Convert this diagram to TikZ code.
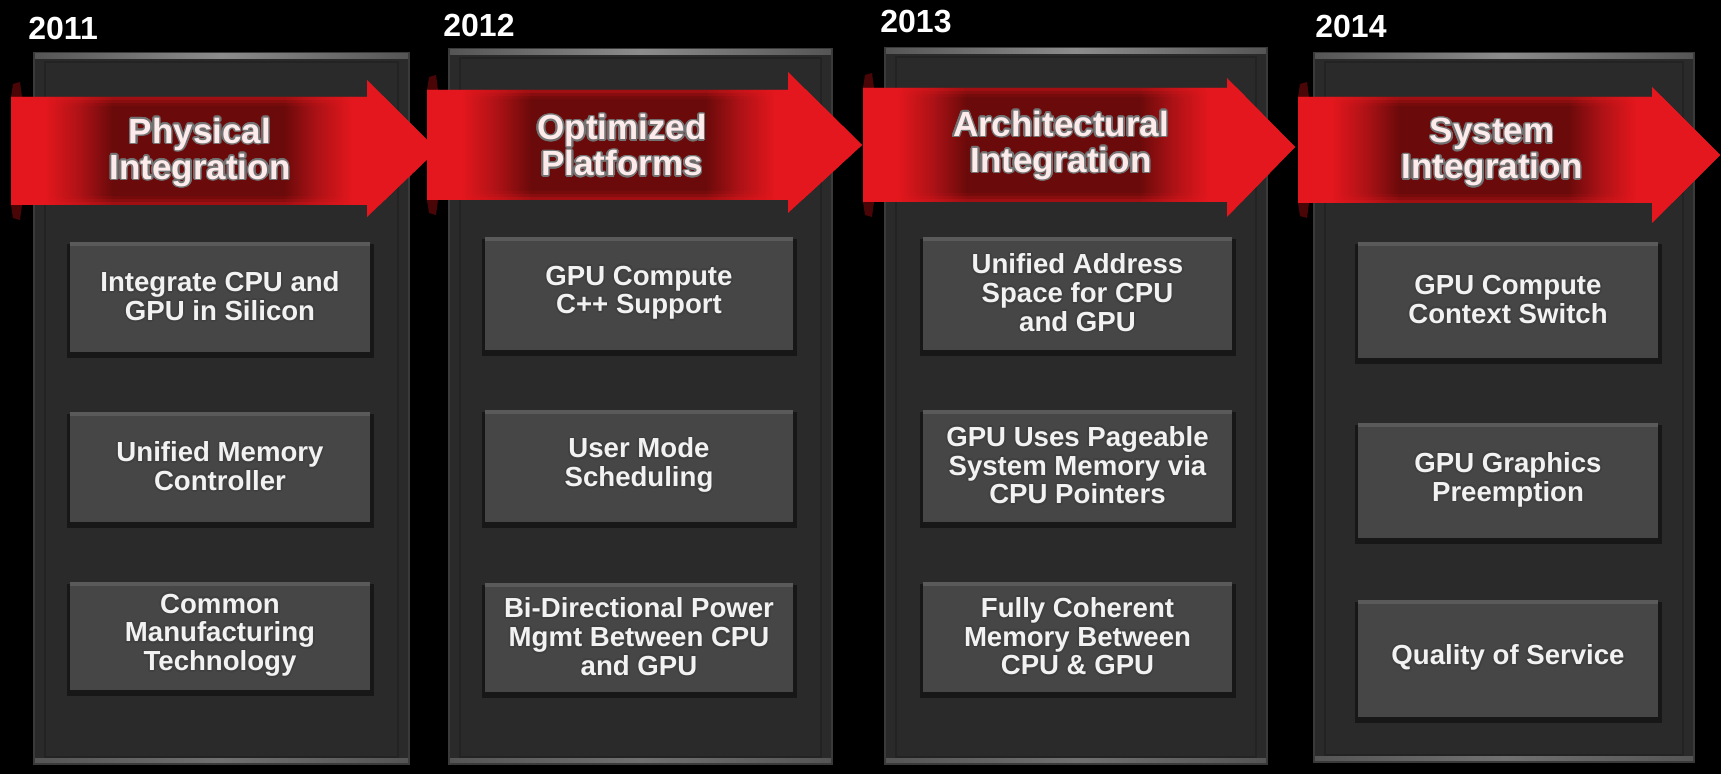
\documentclass[tikz,border=0pt]{standalone}
\usepackage{fontspec}
\setmainfont{Liberation Sans}
\usepackage{contour}
\contourlength{0.8pt}
\contournumber{16}
\definecolor{ribbonred}{HTML}{E3171D}
\definecolor{ribbondark}{HTML}{6A0A0A}
\definecolor{ribbonmid}{HTML}{AE1216}
\definecolor{ribbonfold}{HTML}{4A0606}
\definecolor{panelgray}{HTML}{2A2A2A}
\definecolor{paneledge}{HTML}{3A3A3A}
\definecolor{panelinner}{HTML}{232323}
\definecolor{toplineA}{HTML}{555555}
\definecolor{toplineB}{HTML}{8C8C8C}
\definecolor{boxgray}{HTML}{464646}
\definecolor{boxtop}{HTML}{5A5A5A}
\definecolor{titlepink}{HTML}{FDEBEB}
\definecolor{itemwhite}{HTML}{F2F2F2}
% red ends, dark middle behind the title; 25bp..75bp spans the band
\pgfdeclarehorizontalshading{ribbonglow}{100bp}{color(0bp)=(ribbonred); color(29bp)=(ribbonred); color(33bp)=(ribbonmid); color(37bp)=(ribbondark); color(57bp)=(ribbondark); color(61bp)=(ribbonmid); color(65bp)=(ribbonred); color(100bp)=(ribbonred)}
\newcommand\sh[1]{\contour{black!75}{#1}}
\newcommand\shr[1]{\contour{black!55}{#1}}
% panel: x1 y1 x2 y2
\newcommand\drawpanel[4]{%
  \fill[panelgray] (#1,#2) rectangle (#3,#4);
  \draw[paneledge, line width=1pt] (#1+1,#2+1) rectangle (#3-1,#4-1);
  \draw[panelinner, line width=0.8pt] (#1+12,#2+10) rectangle (#3-12,#4-8);
  \shade[left color=toplineA, right color=toplineA, middle color=toplineB] (#1+2,#2+2) rectangle (#3-2,#2+7);
  \shade[left color=toplineA, right color=toplineA, middle color=toplineB!80!black] (#1+2,#4-6) rectangle (#3-2,#4-2);
}
% item box: name x1 y1 x2 y2 text
\newcommand\itembox[6]{%
  \fill[black, opacity=0.45] (#2-3,#3+2) rectangle (#4+4,#5+6);
  \fill[boxgray] (#2,#3) rectangle (#4,#5);
  \fill[boxtop] (#2,#3) rectangle (#4,#3+4);
  \node[itemtext] (#1) at ({(#2+#4)/2},{(#3+#5)/2}) {#6};
}
% ribbon arrow: tail top bottom headx headtop headbottom tipx tipy
\newcommand\ribbon[8]{%
  \fill[ribbonfold] (#1,#2) -- (#1+2,#2-13) -- (#1+9,#2-15) -- (#1+11,#2) -- cycle;
  \fill[ribbonfold] (#1,#3) -- (#1+2,#3+13) -- (#1+9,#3+15) -- (#1+11,#3) -- cycle;
  \begin{scope}
    \clip (#1,#2) -- (#4,#2) -- (#4,#5) -- (#7,#8) -- (#4,#6) -- (#4,#3) -- (#1,#3) -- cycle;
    \fill[ribbonred] (#1-5,#5-5) rectangle (#7+5,#6+5);
    \shade[shading=ribbonglow] (#1,#2) rectangle (#7,#3);
    % soften the upper and lower edges of the band
    \fill[ribbonred, opacity=0.45] (#1,#2) rectangle (#4,#2+3);
    \fill[ribbonred, opacity=0.25] (#1,#2+3) rectangle (#4,#2+6);
    \fill[ribbonred, opacity=0.1] (#1,#2+6) rectangle (#4,#2+9);
    \fill[ribbonred, opacity=0.45] (#1,#3-3) rectangle (#4,#3);
    \fill[ribbonred, opacity=0.25] (#1,#3-6) rectangle (#4,#3-3);
    \fill[ribbonred, opacity=0.1] (#1,#3-9) rectangle (#4,#3-6);
  \end{scope}
}
\tikzset{
  itemtext/.style={text=itemwhite, font=\bfseries\fontsize{13.8}{14.4}\selectfont, align=center, inner sep=0pt},
  titletext/.style={text=titlepink, font=\bfseries\fontsize{17.5}{18}\selectfont, align=center, inner sep=0pt},
  yeartext/.style={text=white, font=\bfseries\fontsize{16}{20}\selectfont, anchor=base west, inner sep=0pt}
}
\begin{document}
\begin{tikzpicture}[x=0.5pt,y=-0.5pt]
\useasboundingbox (0,0) rectangle (1721,774);
\fill[black] (0,0) rectangle (1721,774);

% year columns
\drawpanel{33}{52}{410}{765}
\drawpanel{448}{48}{833}{765}
\drawpanel{884}{47}{1268}{765}
\drawpanel{1313}{52}{1695}{763}

% years
\node[yeartext] (y11) at (28,40) {2011};
\node[yeartext] (y12) at (443,37) {2012};
\node[yeartext] (y13) at (880,33) {2013};
\node[yeartext] (y14) at (1315,38) {2014};

% 2011 items
\itembox{a1}{70}{242}{370}{352}{\sh{Integrate CPU and}\\\sh{GPU in Silicon}}
\itembox{a2}{70}{412}{370}{522}{\sh{Unified Memory}\\\sh{Controller}}
\itembox{a3}{70}{582}{370}{690}{\sh{Common}\\\sh{Manufacturing}\\\sh{Technology}}
% 2012 items
\itembox{b1}{485}{237}{793}{350}{\sh{GPU Compute}\\\sh{C++ Support}}
\itembox{b2}{485}{410}{793}{522}{\sh{User Mode}\\\sh{Scheduling}}
\itembox{b3}{485}{583}{793}{692}{\sh{Bi-Directional Power}\\\sh{Mgmt Between CPU}\\\sh{and GPU}}
% 2013 items
\itembox{c1}{923}{237}{1232}{350}{\sh{Unified Address}\\\sh{Space for CPU}\\\sh{and GPU}}
\itembox{c2}{923}{410}{1232}{522}{\sh{GPU Uses Pageable}\\\sh{System Memory via}\\\sh{CPU Pointers}}
\itembox{c3}{923}{582}{1232}{692}{\sh{Fully Coherent}\\\sh{Memory Between}\\\sh{CPU \& GPU}}
% 2014 items
\itembox{d1}{1358}{242}{1658}{358}{\sh{GPU Compute}\\\sh{Context Switch}}
\itembox{d2}{1358}{423}{1658}{538}{\sh{GPU Graphics}\\\sh{Preemption}}
\itembox{d3}{1358}{600}{1658}{717}{\sh{Quality of Service}}

% ribbon arrows, drawn right to left so each head lies over the next tail
\ribbon{1298}{97}{203}{1652}{87}{223}{1720}{155}
\ribbon{863}{88}{202}{1227}{78}{217}{1295}{147}
\ribbon{427}{90}{200}{788}{72}{213}{862}{145}
\ribbon{11}{97}{205}{367}{80}{217}{437}{150}

% stage titles
\node[titletext] (t1) at (200,153) {\shr{Physical}\\\shr{Integration}};
\node[titletext] (t2) at (622,146) {\shr{Optimized}\\\shr{Platforms}};
\node[titletext] (t3) at (1061,146) {\shr{Architectural}\\\shr{Integration}};
\node[titletext] (t4) at (1492,153) {\shr{System}\\\shr{Integration}};
\end{tikzpicture}
\end{document}
